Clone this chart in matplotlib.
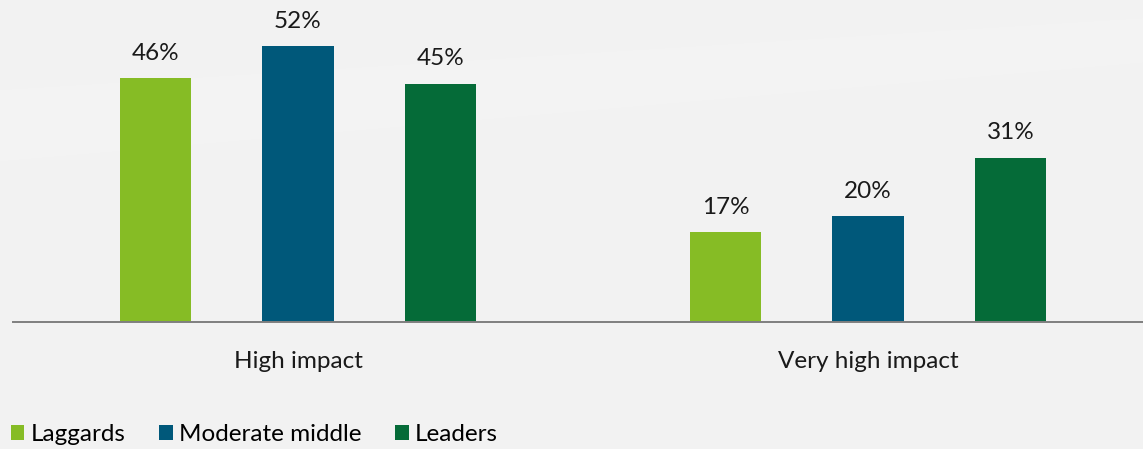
import numpy as np
import matplotlib.pyplot as plt
from matplotlib.patches import Patch

plt.rcParams['font.family'] = ['Lato', 'DejaVu Sans']

categories = ['High impact', 'Very high impact']
series = ['Laggards', 'Moderate middle', 'Leaders']
values = {
    'Laggards': [46, 17],
    'Moderate middle': [52, 20],
    'Leaders': [45, 31],
}
colors = {'Laggards': '#86BC25', 'Moderate middle': '#00587A', 'Leaders': '#056B38'}

W, H = 1143, 449
fig = plt.figure(figsize=(W / 100, H / 100), dpi=100)
fig.patch.set_facecolor('#F2F2F2')

# soft background swooshes (layered for a gentle fade)
bg = fig.add_axes([0, 0, 1, 1], zorder=-5)
bg.set_xlim(0, 1); bg.set_ylim(0, 1); bg.axis('off')
xs = np.linspace(0, 1, 200)
for k in range(6):
    d = 0.012 * k
    bg.fill_between(xs, 0.64 + 0.22 * xs + d, 0.80 + 0.16 * xs - d, color='white', alpha=0.08, lw=0)
    bg.fill_between(xs, 0.30 + 0.20 * xs + d, 0.42 + 0.22 * xs - d, color='white', alpha=0.07, lw=0)
    bg.fill_between(xs, 0.04 + 0.06 * xs + d, 0.20 + 0.10 * xs - d, color='white', alpha=0.07, lw=0)

left_px, right_px = 13, 1153
base_px, top_px = 322, 4
ax = fig.add_axes([left_px / W, (H - base_px) / H, (right_px - left_px) / W, (base_px - top_px) / H])
ax.patch.set_alpha(0)

x = np.arange(len(categories))
offsets = [-0.25, 0, 0.25]
for s, off in zip(series, offsets):
    bars = ax.bar(x + off, values[s], width=0.125, color=colors[s], label=s, zorder=2)
    for b, v in zip(bars, values[s]):
        ax.text(b.get_x() + b.get_width() / 2, v + 2.7, f'{v}%', ha='center', va='bottom',
                fontsize=17.5, color='#1A1A1A')

ax.set_xlim(-0.5, 1.5)
ax.set_ylim(0, 60)
ax.set_yticks([])
ax.set_xticks(x)
ax.set_xticklabels(categories, fontsize=17.5, color='#1A1A1A')
ax.tick_params(axis='x', length=0, pad=21)
for sp in ['top', 'right', 'left']:
    ax.spines[sp].set_visible(False)
ax.spines['bottom'].set_color('#7F7F7F')
ax.spines['bottom'].set_linewidth(1.4)

handles = [Patch(facecolor=colors[s], label=s) for s in series]
fig.legend(handles=handles, loc='lower left', bbox_to_anchor=(0.0, -0.016), ncol=3,
           frameon=False, fontsize=17.5, handlelength=0.55, handleheight=0.55,
           handletextpad=0.25, columnspacing=1.4, borderaxespad=0.0, borderpad=0.45)

fig.savefig('out.png', dpi=100, facecolor=fig.get_facecolor())
